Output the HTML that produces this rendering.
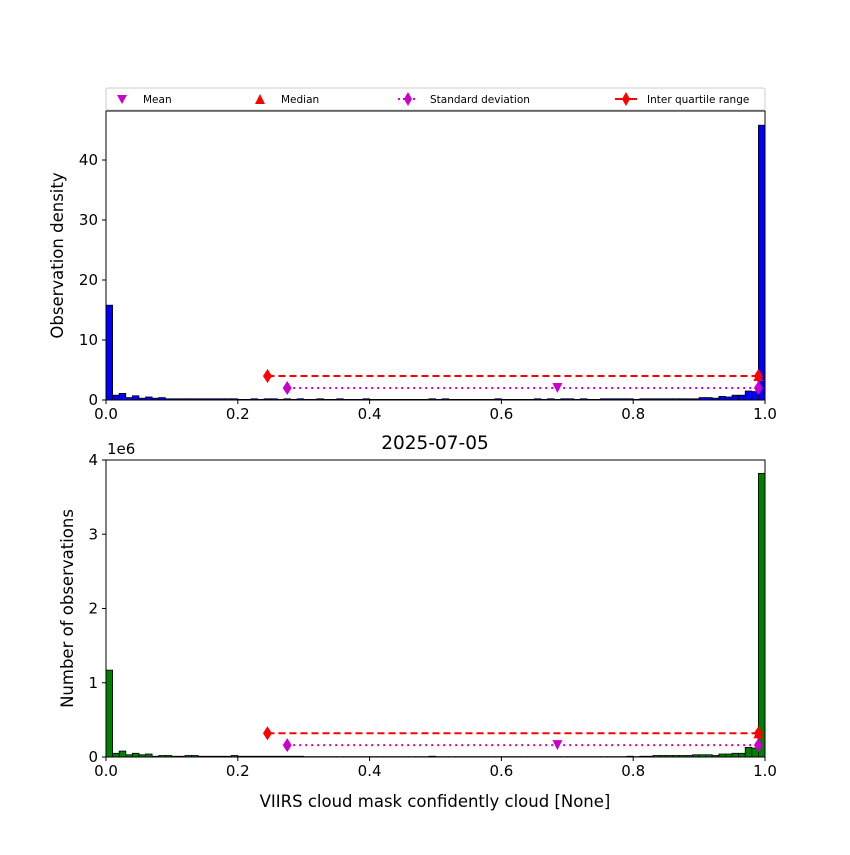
<!DOCTYPE html>
<html><head><meta charset="utf-8"><style>
body{margin:0;background:#fff;}
svg{font-family:"DejaVu Sans","Liberation Sans",sans-serif;}
</style></head><body>
<svg id="c" width="850" height="850"></svg>
<script>
const binEdgesCount = 100;
const density = [15.8,0.8,1.1,0.4,0.7,0.3,0.5,0.3,0.4,0.2,
0.2,0.2,0.2,0.2,0.2,0.2,0.2,0.2,0.2,0.2,
0.1,0.1,0.2,0.1,0.2,0.2,0.1,0.2,0.1,0.2,
0.1,0.1,0.2,0.1,0.1,0.2,0.1,0.1,0.1,0.2,
0.1,0.1,0.1,0.1,0.1,0.1,0.1,0.1,0.1,0.2,
0.1,0.2,0.1,0.1,0.1,0.1,0.1,0.1,0.1,0.2,
0.1,0.1,0.1,0.1,0.1,0.2,0.1,0.2,0.1,0.2,
0.2,0.1,0.2,0.1,0.1,0.2,0.2,0.2,0.2,0.2,
0.1,0.2,0.2,0.2,0.2,0.2,0.2,0.2,0.2,0.2,
0.4,0.4,0.3,0.6,0.5,0.8,0.8,1.5,1.4,45.8];
const counts = [1.17,0.05,0.08,0.03,0.05,0.03,0.04,0.01,0.02,0.02,
0.01,0.01,0.02,0.02,0.01,0.01,0.01,0.01,0.01,0.02,
0.01,0.01,0.01,0.01,0.01,0.01,0.01,0.01,0.01,0.01,
0.005,0.005,0.005,0.005,0.005,0.005,0.005,0.005,0.005,0.005,
0.005,0.005,0.005,0.005,0.005,0.005,0.005,0.005,0.005,0.01,
0.005,0.005,0.005,0.005,0.005,0.005,0.005,0.005,0.005,0.005,
0.005,0.005,0.005,0.005,0.005,0.005,0.005,0.005,0.005,0.005,
0.005,0.005,0.005,0.005,0.005,0.005,0.005,0.005,0.005,0.01,
0.005,0.01,0.01,0.02,0.02,0.02,0.02,0.02,0.02,0.03,
0.03,0.03,0.02,0.04,0.04,0.05,0.05,0.13,0.12,3.82];
const xTicks = [0,0.2,0.4,0.6,0.8,1.0];
const xTickLabels = ["0.0","0.2","0.4","0.6","0.8","1.0"];
const yTicksTop = [0,10,20,30,40];
const yTicksBot = [0,1,2,3,4];
const statsTop = {mean:0.685, median:0.99, sdLo:0.275, sdHi:0.99, iqrLo:0.245, iqrHi:0.99, sdY:2.0, iqrY:4.0};
const statsBot = {mean:0.685, median:0.99, sdLo:0.275, sdHi:0.99, iqrLo:0.245, iqrHi:0.99, sdY:0.16, iqrY:0.32};

const NS="http://www.w3.org/2000/svg";
const svg=document.getElementById('c');
function el(t,a,p){const e=document.createElementNS(NS,t);for(const k in a)e.setAttribute(k,a[k]);(p||svg).appendChild(e);return e;}
const X0=106,X1=765;
const sx=v=>X0+v*(X1-X0);

function panel(name,top,bot,ymax,vals,color,yTicks,stats,ylabel,ylx){
  const g=el('g',{});
  
  
  const sy=v=>bot-v/ymax*(bot-top);
  const w=(X1-X0)/binEdgesCount;
  vals.forEach((v,i)=>{
    const r=el('rect',{x:sx(i/binEdgesCount),y:sy(v),width:w,height:bot-sy(v),fill:color,stroke:'#000','stroke-width':0.8},g);
    
    
  });
  const l1=el('line',{x1:sx(stats.iqrLo),x2:sx(stats.iqrHi),y1:sy(stats.iqrY),y2:sy(stats.iqrY),stroke:'#f00','stroke-width':2,'stroke-dasharray':'7,4'},g);
  
  const l2=el('line',{x1:sx(stats.sdLo),x2:sx(stats.sdHi),y1:sy(stats.sdY),y2:sy(stats.sdY),stroke:'#c0c','stroke-width':2,'stroke-dasharray':'2,4'},g);
  
  const dia=(x,y,c)=>el('polygon',{points:`${x},${y-7} ${x+4.5},${y} ${x},${y+7} ${x-4.5},${y}`,fill:c},g);
  dia(sx(stats.iqrLo),sy(stats.iqrY),'#f00');dia(sx(stats.iqrHi),sy(stats.iqrY),'#f00');
  dia(sx(stats.sdLo),sy(stats.sdY),'#c0c');dia(sx(stats.sdHi),sy(stats.sdY),'#c0c');
  const mx=sx(stats.mean),my=sy(stats.sdY);
  const m=el('polygon',{points:`${mx-5},${my-5} ${mx+5},${my-5} ${mx},${my+5}`,fill:'#c0c'},g);
  
  const dx=sx(stats.median),dy=sy(stats.iqrY);
  const md=el('polygon',{points:`${dx-5},${dy+5} ${dx+5},${dy+5} ${dx},${dy-5}`,fill:'#f00'},g);
  
  el('rect',{x:X0,y:top,width:X1-X0,height:bot-top,fill:'none',stroke:'#000','stroke-width':1},g);
  xTicks.forEach((t,i)=>{
    el('line',{x1:sx(t),x2:sx(t),y1:bot,y2:bot+4,stroke:'#000'},g);
    const tx=el('text',{x:sx(t),y:bot+19,'font-size':15,'text-anchor':'middle'},g);tx.textContent=xTickLabels[i];
  });
  yTicks.forEach(t=>{
    el('line',{x1:X0-4,x2:X0,y1:sy(t),y2:sy(t),stroke:'#000'},g);
    const tx=el('text',{x:X0-8,y:sy(t)+5,'font-size':15,'text-anchor':'end'},g);tx.textContent=t;
  });
  const yl=el('text',{x:0,y:0,'font-size':16.5,'text-anchor':'middle',transform:`translate(${ylx},${(top+bot)/2}) rotate(-90)`},g);
  yl.textContent=ylabel;
  
}
panel('density-panel',111,400,48.17,density,'#0000ff',yTicksTop,statsTop,'Observation density',63);
panel('count-panel',460,757,4,counts,'#008000',yTicksBot,statsBot,'Number of observations',73);

let t=el('text',{x:435,y:449,'font-size':18.5,'text-anchor':'middle'});t.textContent='2025-07-05';

t=el('text',{x:107,y:454,'font-size':15});t.textContent='1e6';

t=el('text',{x:435,y:807,'font-size':16.5,'text-anchor':'middle'});t.textContent='VIIRS cloud mask confidently cloud [None]';


const lg=el('g',{});


el('rect',{x:106,y:88,width:659,height:22,rx:2,fill:'#fff',stroke:'#ccc'},lg);
el('polygon',{points:'117,95 127,95 122,104',fill:'#c0c'},lg);
t=el('text',{x:143,y:103,'font-size':10.5},lg);t.textContent='Mean';
el('polygon',{points:'255,104 265,104 260,94',fill:'#f00'},lg);
t=el('text',{x:281,y:103,'font-size':10.5},lg);t.textContent='Median';
el('line',{x1:398,x2:418,y1:99,y2:99,stroke:'#c0c','stroke-width':2,'stroke-dasharray':'2,3'},lg);
el('polygon',{points:'408,92 412,99 408,106 404,99',fill:'#c0c'},lg);
t=el('text',{x:430,y:103,'font-size':10.5},lg);t.textContent='Standard deviation';
el('line',{x1:615,x2:637,y1:99,y2:99,stroke:'#f00','stroke-width':2},lg);
el('polygon',{points:'626,92 630,99 626,106 622,99',fill:'#f00'},lg);
t=el('text',{x:647,y:103,'font-size':10.5},lg);t.textContent='Inter quartile range';
</script>
</body></html>
